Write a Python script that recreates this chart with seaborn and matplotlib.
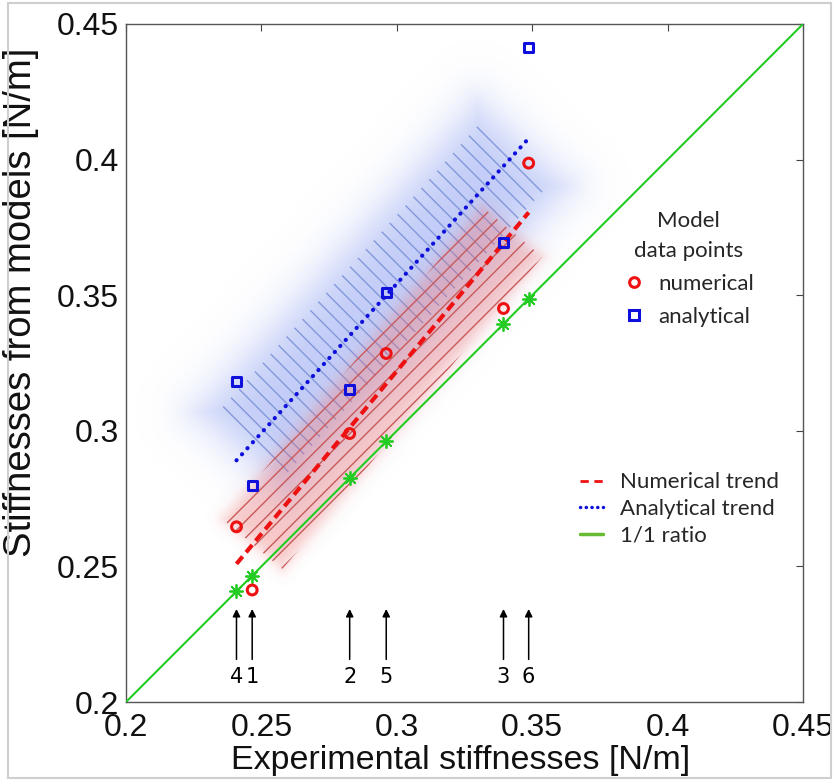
import numpy as np
import pandas as pd
import matplotlib
matplotlib.use("Agg")
import matplotlib.pyplot as plt
import seaborn as sns
from matplotlib.patches import Polygon, Rectangle
from matplotlib.lines import Line2D

# ---------------- data ----------------
sample_ids = ["1", "2", "3", "4", "5", "6"]
experimental = [0.2466, 0.2826, 0.3394, 0.2408, 0.2961, 0.3487]
numerical = [0.2413, 0.2990, 0.3451, 0.2646, 0.3285, 0.3987]
analytical = [0.2797, 0.3153, 0.3695, 0.3181, 0.3510, 0.4415]
axis_ticks = [0.2, 0.25, 0.3, 0.35, 0.4, 0.45]
tick_labels = ["0.2", "0.25", "0.3", "0.35", "0.4", "0.45"]

df = pd.DataFrame({"exp": experimental, "num": numerical,
                   "ana": analytical, "id": sample_ids})

# ---------------- style ----------------
sns.set_theme(style="white")
plt.rcParams["font.family"] = ["Liberation Sans", "DejaVu Sans"]
plt.rcParams["hatch.linewidth"] = 1.0

RED = "#ee1111"
BLUE = "#1010dd"
GREEN = "#22cc22"

W, H = 838, 781
fig = plt.figure(figsize=(W / 100, H / 100), dpi=100)
ax = fig.add_axes([126 / W, 1 - 702 / H, 677 / W, 678 / H])
LIM = (0.2, 0.45)
ax.set_xlim(*LIM)
ax.set_ylim(*LIM)

# regression fits (used for the shaded bands)
m_n, b_n = np.polyfit(experimental, numerical, 1)
m_a, b_a = np.polyfit(experimental, analytical, 1)


def band(m, b, x0, x1, hw):
    L = np.hypot(1.0, m)
    n = np.array([-m, 1.0]) / L
    p0 = np.array([x0, m * x0 + b])
    p1 = np.array([x1, m * x1 + b])
    return np.array([p0 + hw * n, p1 + hw * n, p1 - hw * n, p0 - hw * n])


def glow(m, b, x0, x1, hw, grow, sigma, rgb, amax, z):
    """soft-edged rotated rectangle around the trend, drawn as an image"""
    L = np.hypot(1.0, m)
    u = np.array([1.0, m]) / L
    n = np.array([-m, 1.0]) / L
    c = np.array([(x0 + x1) / 2, m * (x0 + x1) / 2 + b])
    half_len = (x1 - x0) / 2 * L + grow
    half_w = hw + grow
    g = np.linspace(LIM[0], LIM[1], 700)
    X, Y = np.meshgrid(g, g)
    s = (X - c[0]) * u[0] + (Y - c[1]) * u[1]
    t = (X - c[0]) * n[0] + (Y - c[1]) * n[1]
    qx = np.abs(s) - half_len
    qy = np.abs(t) - half_w
    outside = np.hypot(np.maximum(qx, 0), np.maximum(qy, 0))
    inside = np.minimum(np.maximum(qx, qy), 0)
    sd = outside + inside
    a = amax / (1 + np.exp(sd / sigma))
    img = np.zeros(X.shape + (4,))
    img[..., :3] = rgb
    img[..., 3] = a
    ax.imshow(img, origin="lower", extent=(LIM[0], LIM[1], LIM[0], LIM[1]),
              aspect="auto", interpolation="bilinear", zorder=z)


xmin, xmax = min(experimental), max(experimental)
x0, x1 = xmin + 0.006, xmax - 0.006

# blue soft band + hatch
glow(m_a, b_a, x0, x1, 0.017, 0.005, 0.005, (0.52, 0.60, 0.94), 0.50, 1)
ax.add_patch(Polygon(band(m_a, b_a, x0, x1, 0.017), closed=True, fc="none",
                     ec="#8398dc", lw=0, hatch="\\\\", zorder=2))

# red soft band + hatch
glow(m_n, b_n, x0, x1, 0.0143, 0.0, 0.0015, (0.93, 0.42, 0.42), 0.36, 3)
ax.add_patch(Polygon(band(m_n, b_n, x0, x1, 0.0143), closed=True, fc="none",
                     ec="#c85a5a", lw=0, hatch="//", zorder=3))

# 1/1 ratio line
sns.lineplot(x=axis_ticks, y=axis_ticks, color=GREEN, lw=1.5, ax=ax, zorder=4)

# trends
sns.regplot(data=df, x="exp", y="num", scatter=False, ci=None, ax=ax,
            line_kws=dict(color=RED, lw=3, ls=(0, (2.3, 1.3)), zorder=5))
sns.regplot(data=df, x="exp", y="ana", scatter=False, ci=None, ax=ax,
            line_kws=dict(color=BLUE, lw=3, ls=(0, (0.05, 1.9)),
                          dash_capstyle="round", zorder=5))

# markers
sns.scatterplot(data=df, x="exp", y="exp", marker=(8, 2, 0), s=90, color=GREEN,
                linewidth=1.3, ax=ax, zorder=6)
sns.scatterplot(data=df, x="exp", y="num", marker="o", s=50, facecolor="none",
                edgecolor=RED, linewidth=2.2, ax=ax, zorder=7)
sns.scatterplot(data=df, x="exp", y="ana", marker="s", s=42, facecolor="none",
                edgecolor=BLUE, linewidth=2.2, ax=ax, zorder=7)

# arrows with sample numbers
for xe, sid in zip(experimental, sample_ids):
    ax.annotate("", xy=(xe, 0.2343), xytext=(xe, 0.2157),
                arrowprops=dict(arrowstyle="-|>", color="black", lw=1.1,
                                mutation_scale=11, shrinkA=0, shrinkB=0), zorder=8)
    ax.text(xe, 0.2094, sid, ha="center", va="center", fontsize=15,
            family="DejaVu Sans", color="black")

# axes styling
ax.set_xticks(axis_ticks)
ax.set_xticklabels(tick_labels)
ax.set_yticks(axis_ticks)
ax.set_yticklabels(tick_labels)
ax.tick_params(direction="in", length=5, width=0.8, top=True, right=True,
               labelsize=23, colors="#444444", labelcolor="#111111")
ax.tick_params(axis="x", pad=8)
ax.tick_params(axis="y", pad=5)
for sp in ax.spines.values():
    sp.set_color("#555555")
    sp.set_linewidth(1.0)
    sp.set_visible(True)

ax.set_xlabel("Experimental stiffnesses [N/m]", fontsize=24.5, color="#111111")
ax.set_ylabel("Stiffnesses from models [N/m]", fontsize=27.5, color="#111111")
ax.xaxis.set_label_coords(0.494, -0.064)
ax.yaxis.set_label_coords(-0.128, 0.59)

# legend 1 : model data points
h1 = [Line2D([], [], ls="none", marker="o", mfc="none", mec=RED, mew=2.2, ms=7),
      Line2D([], [], ls="none", marker="s", mfc="none", mec=BLUE, mew=2.2, ms=6.5)]
leg1 = fig.legend(h1, ["numerical", "analytical"], title="Model\ndata points",
                  loc="upper left", bbox_to_anchor=(623 / W, 1 - 211 / H),
                  frameon=False, borderpad=0, borderaxespad=0, handlelength=1.0,
                  handletextpad=0.6, labelspacing=0.6,
                  prop=dict(family="Lato", size=16),
                  title_fontproperties=dict(family="Lato", size=16))
leg1.get_title().set_multialignment("center")
leg1.get_title().set_linespacing(1.6)

# legend 2 : trends
h2 = [Line2D([], [], color=RED, lw=2, ls=(0, (3, 2))),
      Line2D([], [], color=BLUE, lw=2.5, ls=(0, (0.05, 1.6)), dash_capstyle="round"),
      Line2D([], [], color="#66bb33", lw=2.5)]
leg2 = fig.legend(h2, ["Numerical trend", "Analytical trend", "1/1 ratio"],
                  loc="center left", bbox_to_anchor=(580 / W, 1 - 509 / H),
                  frameon=False, borderpad=0, borderaxespad=0, handlelength=1.05,
                  handletextpad=0.75, labelspacing=0.3,
                  prop=dict(family="Lato", size=16))

# light frame around the picture
fig.add_artist(Rectangle((8 / W, 3 / H), (831 - 8) / W, (778 - 3) / H,
                         transform=fig.transFigure, fill=False, ec="#cfcfcf", lw=1.5))

fig.savefig("out.png", dpi=100, facecolor="white")
